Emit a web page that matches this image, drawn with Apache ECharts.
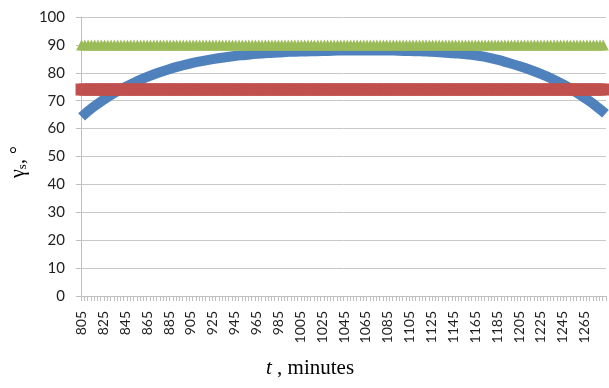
<!DOCTYPE html>
<html>
<head>
<meta charset="utf-8">
<script src="https://cdn.jsdelivr.net/npm/echarts@6/dist/echarts.min.js"></script>
<style>
  html, body { margin: 0; padding: 0; background: #ffffff; }
  #chart { width: 609px; height: 388px; }
</style>
</head>
<body>
<div id="chart"></div>
<script>
// x categories: minutes 805 .. 1284
const firstMinute = 805;
const lastMinute = 1284;
const minutes = [];
for (let m = firstMinute; m <= lastMinute; m++) minutes.push(String(m));

// y axis ticks
const yTicks = [0, 10, 20, 30, 40, 50, 60, 70, 80, 90, 100];

// blue series: readings (minute, value)
const blueMinutes = [805, 815, 825, 835, 845, 855, 865, 875, 885, 895, 905, 915, 925, 935, 945, 955, 965, 975, 985, 995,
  1005, 1015, 1025, 1035, 1045, 1055, 1065, 1075, 1085, 1095, 1105, 1115, 1125, 1135, 1145, 1155, 1165, 1175, 1185, 1195,
  1205, 1215, 1225, 1235, 1245, 1255, 1265, 1275, 1284];
const blueValues = [64.2, 67.5, 70.3, 72.8, 74.9, 76.8, 78.5, 80.0, 81.3, 82.4, 83.4, 84.2, 84.9, 85.5, 86.0, 86.4, 86.8, 87.1, 87.3, 87.5,
  87.6, 87.7, 87.8, 87.9, 88.0, 88.0, 88.0, 88.0, 88.0, 87.9, 87.8, 87.7, 87.5, 87.3, 87.0, 86.7, 86.3, 85.6, 84.7, 83.6,
  82.4, 81.1, 79.6, 77.9, 75.9, 73.6, 71.0, 68.2, 65.3];

// constant series
const redLevel = 74;
const greenLevel = 90;

const chart = echarts.init(document.getElementById('chart'), null, { renderer: 'canvas' });

const blueData = blueMinutes.map((m, i) => [String(m), blueValues[i]]);
const redData = minutes.map(() => redLevel);
const greenData = minutes.map(() => greenLevel);

const option = {
  backgroundColor: '#ffffff',
  animation: false,
  grid: { left: 81, right: 3, top: 17, bottom: 92, containLabel: false },
  xAxis: {
    type: 'category',
    data: minutes,
    boundaryGap: true,
    axisLine: { show: true, lineStyle: { color: '#BFBFBF', width: 1 } },
    axisTick: { show: true, interval: 2, length: 5, lineStyle: { color: '#BFBFBF' } },
    axisLabel: {
      interval: 19, rotate: 90, margin: 15,
      fontFamily: 'Lato', fontSize: 14, color: '#1f1f1f'
    },
    splitLine: { show: false }
  },
  yAxis: {
    type: 'value',
    min: yTicks[0], max: yTicks[yTicks.length - 1], interval: 10,
    axisLine: { show: true, lineStyle: { color: '#BFBFBF', width: 1 } },
    axisTick: { show: true, length: 5, lineStyle: { color: '#BFBFBF' } },
    axisLabel: { margin: 16, fontFamily: 'Lato', fontSize: 15, color: '#1f1f1f' },
    splitLine: { show: true, lineStyle: { color: '#C8C8C8', width: 1 } }
  },
  series: [
    {
      name: 'blue', type: 'line', data: blueData, smooth: true,
      symbol: 'none', z: 2,
      lineStyle: { color: '#4F81BD', width: 10 }
    },
    {
      name: 'red', type: 'line', data: redData,
      showAllSymbol: true,
      symbol: (v, p) => (p.dataIndex % 3 === 0 ? 'rect' : 'none'),
      symbolSize: 12, z: 3,
      itemStyle: { color: '#C0504D' },
      lineStyle: { width: 0, opacity: 0 }
    },
    {
      name: 'green', type: 'line', data: greenData,
      showAllSymbol: true,
      symbol: (v, p) => (p.dataIndex % 3 === 0 ? 'triangle' : 'none'),
      symbolSize: [11, 11], z: 4,
      itemStyle: { color: '#9BBB59' },
      lineStyle: { width: 0, opacity: 0 }
    }
  ],
  graphic: [
    {
      type: 'text', left: 266, top: 358,
      style: {
        text: '{i|t}{n| , minutes}',
        rich: {
          i: { fontFamily: 'Liberation Serif', fontStyle: 'italic', fontSize: 21, fill: '#000' },
          n: { fontFamily: 'Liberation Serif', fontSize: 21, fill: '#000' }
        }
      }
    },
    {
      type: 'text', x: 8, y: 178, rotation: Math.PI / 2,
      style: {
        text: '{g|γ}{s|s}{g|, °}',
        rich: {
          g: { fontFamily: 'Liberation Serif', fontSize: 20, fill: '#000' },
          s: { fontFamily: 'Liberation Serif', fontSize: 13, fill: '#000', padding: [8, 0, 0, 0] }
        }
      }
    }
  ]
};
chart.setOption(option);
</script>
</body>
</html>
